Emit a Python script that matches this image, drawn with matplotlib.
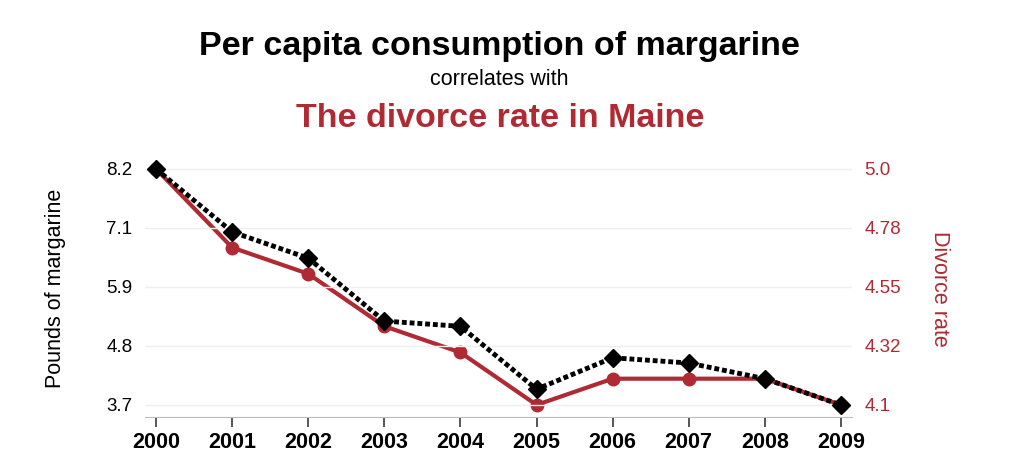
import matplotlib.pyplot as plt

plt.rcParams['font.family'] = ['Liberation Sans', 'DejaVu Sans']

years = [2000, 2001, 2002, 2003, 2004, 2005, 2006, 2007, 2008, 2009]
margarine = [8.2, 7.0, 6.5, 5.3, 5.2, 4.0, 4.6, 4.5, 4.2, 3.7]
divorce = [5.0, 4.7, 4.6, 4.4, 4.3, 4.1, 4.2, 4.2, 4.2, 4.1]

left_ticks = [3.7, 4.825, 5.95, 7.075, 8.2]
left_labels = ['3.7', '4.8', '5.9', '7.1', '8.2']
right_ticks = [4.1, 4.325, 4.55, 4.775, 5.0]
right_labels = ['4.1', '4.32', '4.55', '4.78', '5.0']

red = '#b02a33'

fig = plt.figure(figsize=(10.24, 4.66), dpi=100)
ax = fig.add_axes([0.1416, 0.1052, 0.6904, 0.5515])
ax2 = ax.twinx()

# red series on the right axis, drawn beneath the black one
ax2.plot(years, divorce, color=red, linewidth=3, marker='o', markersize=9, zorder=2)
ax.plot(years, margarine, color='black', linewidth=3.5, linestyle=(0, (1, 0.6)),
        marker='D', markersize=9.5, zorder=3)
ax.set_zorder(ax2.get_zorder() + 1)
ax.patch.set_visible(False)

ax.set_xlim(1999.855, 2009.145)
ax.set_ylim(3.471, 8.372)
ax2.set_ylim(4.054, 5.034)

ax.set_yticks(left_ticks)
ax.set_yticklabels(left_labels)
ax2.set_yticks(right_ticks)
ax2.set_yticklabels(right_labels)
ax.set_xticks(years)
ax.set_xticklabels([str(y) for y in years], fontweight='bold')

for a in (ax, ax2):
    for s in a.spines.values():
        s.set_visible(False)
ax.spines['bottom'].set_visible(True)
ax.spines['bottom'].set_color('#bbbbbb')

ax.grid(axis='y', color='#eeeeee', linewidth=1)
ax.set_axisbelow(True)
ax.tick_params(axis='y', length=0, labelsize=13.5, pad=9)
ax.tick_params(axis='x', length=7, width=1.4, color='#555555', labelsize=15.5, pad=4)
ax2.tick_params(axis='y', length=0, labelsize=13.5, labelcolor=red, pad=9)

ax.set_ylabel('Pounds of margarine', fontsize=15.5, labelpad=29)
ax2.set_ylabel('Divorce rate', fontsize=15.5, color=red, rotation=270, labelpad=35)

fig.text(0.488, 0.9, 'Per capita consumption of margarine', ha='center', va='center',
         fontsize=24.5, fontweight='bold')
fig.text(0.488, 0.83, 'correlates with', ha='center', va='center', fontsize=15.5)
fig.text(0.488, 0.745, 'The divorce rate in Maine', ha='center', va='center',
         fontsize=24.5, fontweight='bold', color=red)

fig.savefig('out.png', dpi=100)
